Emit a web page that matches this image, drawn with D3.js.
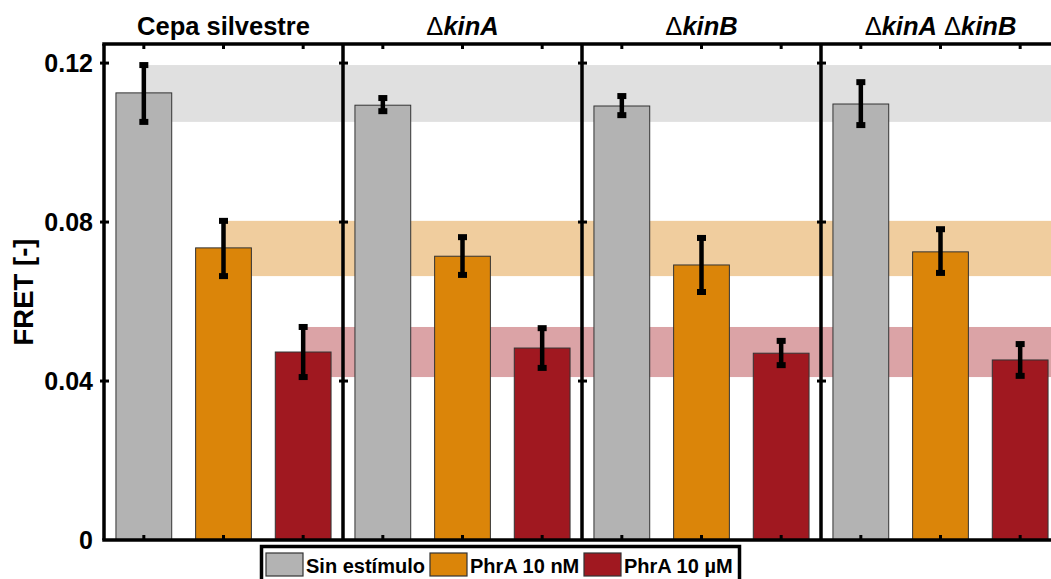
<!DOCTYPE html>
<html>
<head>
<meta charset="utf-8">
<script src="https://cdn.jsdelivr.net/npm/d3@7"></script>
<style>
  body { margin: 0; background: #fff; overflow: hidden; }
  svg { display: block; font-family: 'Liberation Sans', Arial, sans-serif; }
</style>
</head>
<body>
<div id="wrapper"></div>
<script>
// Data
const strains = ['Cepa silvestre', 'ΔkinA', 'ΔkinB', 'ΔkinA ΔkinB'];
const conditions = ['Sin estímulo', 'PhrA 10 nM', 'PhrA 10 µM'];
const colors = ['#b3b3b3', '#db8509', '#a01820'];
const bandColors = ['#e0e0e0', '#f0cd9e', '#dba3a6'];

const fretMeans = [
  [0.1125, 0.0735, 0.0473],
  [0.1094, 0.0714, 0.0483],
  [0.1092, 0.0692, 0.0470],
  [0.1097, 0.0725, 0.0453],
];
const fretLow = [
  [0.1052, 0.0664, 0.0410],
  [0.1079, 0.0667, 0.0433],
  [0.1069, 0.0624, 0.0440],
  [0.1044, 0.0672, 0.0413],
];
const fretHigh = [
  [0.1195, 0.0803, 0.0536],
  [0.1112, 0.0762, 0.0533],
  [0.1117, 0.0760, 0.0501],
  [0.1152, 0.0782, 0.0493],
];
const yTicks = [0, 0.04, 0.08, 0.12];

// Dimensions
const dimensions = {
  width: 1051,
  height: 579,
  margin: { top: 44, left: 104, bottom: 39 },
  panelWidth: 239,
};
const plotBottom = dimensions.height - dimensions.margin.bottom;
const plotRight = dimensions.margin.left + dimensions.panelWidth * strains.length;

// Scales
const x0 = d3.scaleBand()
  .domain(strains)
  .range([dimensions.margin.left, plotRight]);

const x1 = d3.scaleBand()
  .domain(conditions)
  .range([0, x0.bandwidth()])
  .paddingInner(0.3)
  .paddingOuter(0.15);

const yScale = d3.scaleLinear()
  .domain([0, 0.1248])
  .range([plotBottom, dimensions.margin.top]);

const svg = d3.select('#wrapper')
  .append('svg')
  .attr('width', dimensions.width)
  .attr('height', dimensions.height);

// Reference bands (wild-type error range)
const wt = strains[0];
bandColors.forEach((c, j) => {
  const xs = x0(wt) + x1(conditions[j]) + x1.bandwidth() / 2;
  svg.append('rect')
    .attr('x', xs)
    .attr('y', yScale(fretHigh[0][j]))
    .attr('width', plotRight - xs)
    .attr('height', yScale(fretLow[0][j]) - yScale(fretHigh[0][j]))
    .attr('fill', c);
});

// Bars
const rows = strains.flatMap((s, i) => conditions.map((c, j) => ({
  strain: s, cond: c, j,
  mean: fretMeans[i][j], lo: fretLow[i][j], hi: fretHigh[i][j],
})));
const xc = d => x0(d.strain) + x1(d.cond) + x1.bandwidth() / 2;

svg.append('g')
  .selectAll('rect')
  .data(rows)
  .join('rect')
  .attr('x', d => x0(d.strain) + x1(d.cond))
  .attr('y', d => yScale(d.mean))
  .attr('width', x1.bandwidth())
  .attr('height', d => yScale(0) - yScale(d.mean))
  .attr('fill', d => colors[d.j])
  .attr('stroke', '#333')
  .attr('stroke-width', 1);

// Error bars
const err = svg.append('g').selectAll('g').data(rows).join('g');
err.append('line')
  .attr('x1', xc).attr('x2', xc)
  .attr('y1', d => yScale(d.hi)).attr('y2', d => yScale(d.lo))
  .attr('stroke', '#000').attr('stroke-width', 4.5);
['hi', 'lo'].forEach(k => {
  err.append('rect')
    .attr('x', d => xc(d) - 4.5)
    .attr('y', d => yScale(d[k]) - 3)
    .attr('width', 9)
    .attr('height', 6)
    .attr('fill', '#000');
});

// Ticks on top and bottom at bar centres
const tickG = svg.append('g');
rows.forEach(d => {
  tickG.append('line')
    .attr('x1', xc(d)).attr('x2', xc(d))
    .attr('y1', dimensions.margin.top).attr('y2', dimensions.margin.top + 5)
    .attr('stroke', '#000').attr('stroke-width', 3);
  tickG.append('line')
    .attr('x1', xc(d)).attr('x2', xc(d))
    .attr('y1', plotBottom).attr('y2', plotBottom - 5)
    .attr('stroke', '#000').attr('stroke-width', 3);
});

// Panel frames / dividers with y ticks
strains.forEach(s => {
  const xl = x0(s);
  svg.append('line')
    .attr('x1', xl).attr('x2', xl)
    .attr('y1', dimensions.margin.top).attr('y2', plotBottom)
    .attr('stroke', '#000').attr('stroke-width', 3.5);
  yTicks.slice(1).forEach(t => {
    svg.append('line')
      .attr('x1', xl - 4).attr('x2', xl + 5)
      .attr('y1', yScale(t)).attr('y2', yScale(t))
      .attr('stroke', '#000').attr('stroke-width', 3);
  });
});
svg.append('line')
  .attr('x1', dimensions.margin.left - 1.75).attr('x2', plotRight)
  .attr('y1', dimensions.margin.top).attr('y2', dimensions.margin.top)
  .attr('stroke', '#000').attr('stroke-width', 3.5);
svg.append('line')
  .attr('x1', dimensions.margin.left - 1.75).attr('x2', plotRight)
  .attr('y1', plotBottom).attr('y2', plotBottom)
  .attr('stroke', '#000').attr('stroke-width', 3.5);

// Y tick labels
svg.append('g')
  .selectAll('text')
  .data(yTicks)
  .join('text')
  .attr('x', 93)
  .attr('y', d => yScale(d))
  .attr('dy', '0.36em')
  .attr('text-anchor', 'end')
  .attr('font-size', 25)
  .attr('font-weight', 'bold')
  .text(d => d === 0 ? '0' : d3.format('.2f')(d));

// Y axis label
svg.append('text')
  .attr('transform', `translate(33, ${(dimensions.margin.top + plotBottom) / 2}) rotate(-90)`)
  .attr('text-anchor', 'middle')
  .attr('font-size', 27.5)
  .attr('font-weight', 'bold')
  .text('FRET [-]');

// Panel titles
strains.forEach(s => {
  const t = svg.append('text')
    .attr('x', x0(s) + x0.bandwidth() / 2)
    .attr('y', 35)
    .attr('text-anchor', 'middle')
    .attr('font-size', 25.5)
    .attr('font-weight', 'bold');
  if (!s.includes('Δ')) {
    t.text(s);
    return;
  }
  s.split(' ').forEach((part, k) => {
    t.append('tspan').attr('font-weight', 'normal').text((k > 0 ? ' ' : '') + 'Δ');
    t.append('tspan').attr('font-style', 'italic').text(part.slice(1));
  });
});

// Legend
const legend = svg.append('g');
legend.append('rect')
  .attr('x', 261.5).attr('y', 546.5)
  .attr('width', 478).attr('height', 40)
  .attr('fill', '#fff').attr('stroke', '#000').attr('stroke-width', 3.5);
const legendX = [266, 430, 584];
conditions.forEach((c, j) => {
  legend.append('rect')
    .attr('x', legendX[j]).attr('y', 553)
    .attr('width', 37).attr('height', 23)
    .attr('fill', colors[j]).attr('stroke', '#333').attr('stroke-width', 1.2);
  legend.append('text')
    .attr('x', legendX[j] + 40).attr('y', 573)
    .attr('font-size', 20)
    .attr('font-weight', 'bold')
    .text(c);
});
</script>
</body>
</html>
